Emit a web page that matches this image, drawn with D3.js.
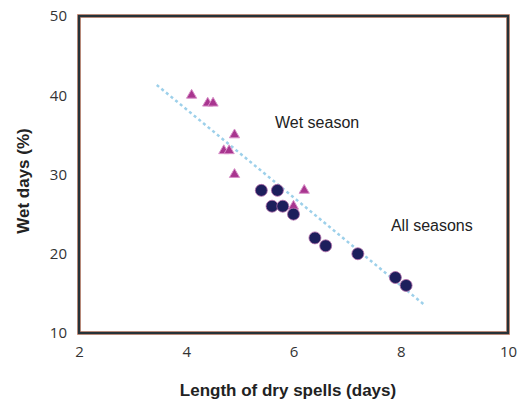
<!DOCTYPE html>
<html><head><meta charset="utf-8">
<script src="https://cdn.jsdelivr.net/npm/d3@7"></script>
<style>body{margin:0;background:#fff}svg{display:block}</style>
</head><body>
<script>
// Data
const wetX = [4.1, 4.4, 4.5, 4.9, 4.7, 4.8, 4.9, 6.2, 6.0];
const wetY = [40, 39, 39, 35, 33, 33, 30, 28, 26];
const allX = [5.4, 5.7, 5.6, 5.8, 6.0, 6.4, 6.6, 7.2, 7.9, 8.1];
const allY = [28, 28, 26, 26, 25, 22, 21, 20, 17, 16];
const fitX = [3.45, 8.45];
const fitY = [41.3, 13.5];
const xTicks = [2, 4, 6, 8, 10];
const yTicks = [10, 20, 30, 40, 50];
const labels = [{t:"Wet season", x:6.44, y:35.9}, {t:"All seasons", x:8.58, y:22.9}];

const W = 518, H = 403;
const svg = d3.select("body").append("svg").attr("width", W).attr("height", H);
const x = d3.scaleLinear().domain([2, 10]).range([79, 508]);
const y = d3.scaleLinear().domain([10, 50]).range([333, 16]);

// axes (labels only)
const xa = svg.append("g").attr("transform", `translate(0,${y(10)})`)
  .call(d3.axisBottom(x).tickValues(xTicks).tickSize(0).tickPadding(13));
const ya = svg.append("g").attr("transform", `translate(${x(2)},0)`)
  .call(d3.axisLeft(y).tickValues(yTicks).tickSize(0).tickPadding(12));
[xa, ya].forEach(g => {
  g.select(".domain").remove();
  g.selectAll("text").attr("font-family", "'Open Sans', sans-serif").attr("font-size", 15).attr("fill", "#333");
});
ya.selectAll("text").attr("text-anchor", "end").attr("dy", "0.32em");

// frame
svg.append("rect").attr("x", x(2)).attr("y", y(50)).attr("width", x(10) - x(2)).attr("height", y(10) - y(50))
  .attr("fill", "none").attr("stroke", "#e8a890").attr("stroke-width", 4);
svg.append("rect").attr("x", x(2)).attr("y", y(50)).attr("width", x(10) - x(2)).attr("height", y(10) - y(50))
  .attr("fill", "none").attr("stroke", "#263238").attr("stroke-width", 2.5);

// fit line
svg.append("line").attr("x1", x(fitX[0])).attr("y1", y(fitY[0])).attr("x2", x(fitX[1])).attr("y2", y(fitY[1]))
  .attr("stroke", "#9dd0ea").attr("stroke-width", 2.5).attr("stroke-dasharray", "3,3");

// wet season triangles
const tri = d3.symbol().type(d3.symbolTriangle).size(45);
svg.append("g").selectAll("path").data(wetX.map((d, i) => [d, wetY[i]])).join("path")
  .attr("d", tri).attr("transform", d => `translate(${x(d[0])},${y(d[1])})`)
  .attr("fill", "#a8358f").attr("stroke", "#d890c8").attr("stroke-width", 1);

// all seasons circles
svg.append("g").selectAll("circle").data(allX.map((d, i) => [d, allY[i]])).join("circle")
  .attr("cx", d => x(d[0])).attr("cy", d => y(d[1])).attr("r", 6)
  .attr("fill", "#1d1f5c").attr("stroke", "#b06aa8").attr("stroke-width", 0.8);

// text labels
svg.append("g").selectAll("text").data(labels).join("text")
  .attr("x", d => x(d.x)).attr("y", d => y(d.y)).attr("text-anchor", "middle")
  .attr("font-family", "'Liberation Sans', Arial, sans-serif").attr("font-size", 16).attr("fill", "#222")
  .text(d => d.t);

// axis titles
svg.append("text").attr("x", 288).attr("y", 396).attr("text-anchor", "middle")
  .attr("font-family", "'Liberation Sans', Arial, sans-serif").attr("font-weight", "bold").attr("font-size", 17).attr("fill", "#222")
  .text("Length of dry spells (days)");
svg.append("text").attr("transform", "translate(29,181) rotate(-90)").attr("text-anchor", "middle")
  .attr("font-family", "'Liberation Sans', Arial, sans-serif").attr("font-weight", "bold").attr("font-size", 17).attr("fill", "#222")
  .text("Wet days (%)");
</script>
</body></html>
